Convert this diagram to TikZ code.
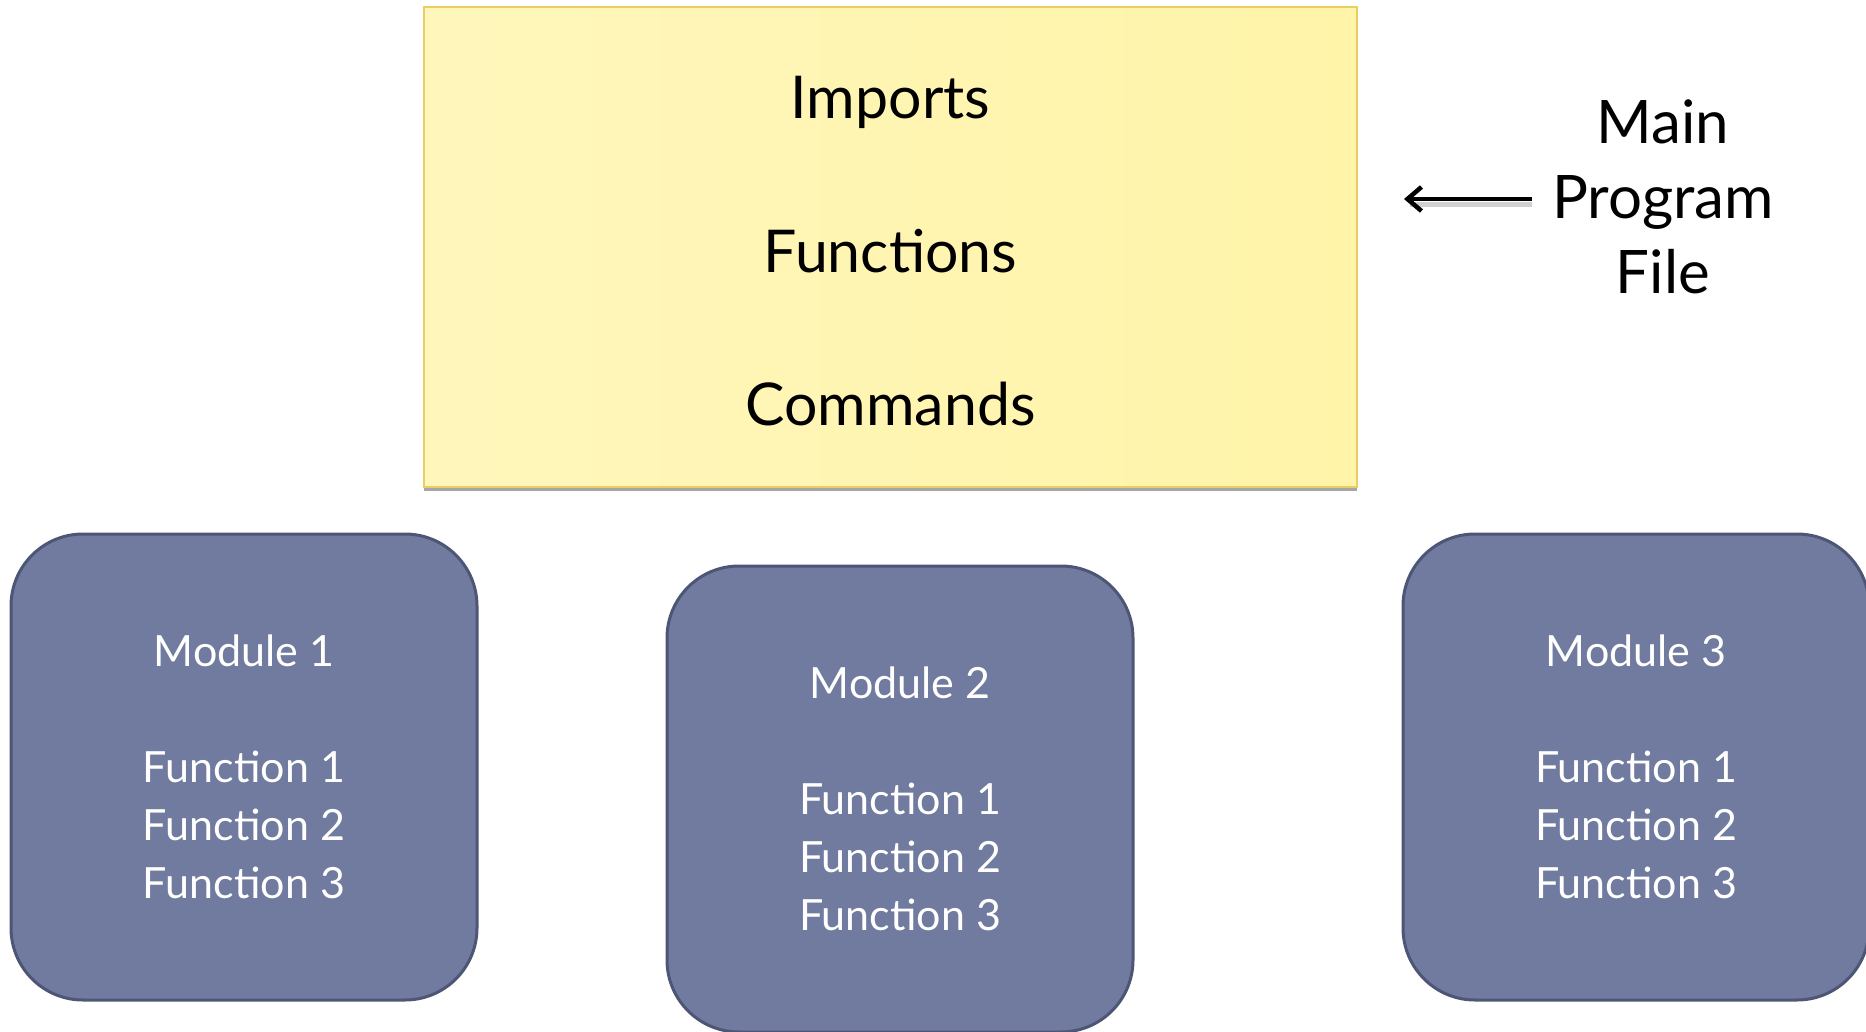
\documentclass[tikz,border=0pt]{standalone}
\usepackage{fontspec}
\setmainfont{Lato}
\usetikzlibrary{arrows.meta,shadows,calc}
\definecolor{modfill}{HTML}{717A9F}
\definecolor{moddraw}{HTML}{4E5675}
\definecolor{yelA}{HTML}{FFF6BC}
\definecolor{yelB}{HTML}{FFF08A}
\definecolor{yelC}{HTML}{FFF4A8}
\definecolor{yelBorder}{HTML}{EBCD66}
\tikzset{
  mainbox/.style={rectangle, minimum width=933, minimum height=480, inner sep=0, outer sep=0,
    draw=yelBorder, line width=1.5, left color=yelA, middle color=yelB, right color=yelC,
    drop shadow={shadow xshift=0pt, shadow yshift=-4pt, fill=black, opacity=0.35}},
  bigtext/.style={font=\fontsize{59}{75}\selectfont, text=black, inner sep=0, anchor=base},
  sidelabel/.style={font=\fontsize{60}{75}\selectfont, text=black, inner sep=0, align=center},
  modbox/.style={rectangle, rounded corners=72, minimum width=466, minimum height=466, inner sep=0,
    fill=modfill, draw=moddraw, line width=3},
  modtext/.style={font=\fontsize{43}{58}\selectfont, text=white, align=center, inner sep=0},
  pointer/.style={line width=4.5, -{Straight Barb[length=14, width=24, line width=4.5]}},
  pointershadow/.style={line width=5, draw=black, opacity=0.18}
}
\begin{document}
\begin{tikzpicture}[x=1pt, y=-1pt]
\useasboundingbox (0,0) rectangle (1866,1031);
\node[mainbox] (main) at (890.5,247) {};
\node[bigtext] (imports) at (890.5,118) {Imports};
\node[bigtext] (functions) at (890.5,272) {Functions};
\node[bigtext] (commands) at (890.5,425) {Commands};

\node[sidelabel] (label) at (1663,197) {Main\\Program\\File};
\coordinate (atail) at (1532,199);
\coordinate (ahead) at (1404,199);
\coordinate (stail) at (1532,204);
\coordinate (shead) at (1410,204);
\draw[pointershadow] (stail) -- (shead);
\draw[pointer] (atail) -- (ahead);

\node[modbox] (mod1) at (244,767) {};
\node[modtext] (mod1text) at (mod1.center) {Module 1\\[58pt]Function 1\\Function 2\\Function 3};
\node[modbox] (mod2) at (900,799) {};
\node[modtext] (mod2text) at (mod2.center) {Module 2\\[58pt]Function 1\\Function 2\\Function 3};
\node[modbox] (mod3) at (1636,767) {};
\node[modtext] (mod3text) at (mod3.center) {Module 3\\[58pt]Function 1\\Function 2\\Function 3};
\end{tikzpicture}
\end{document}
